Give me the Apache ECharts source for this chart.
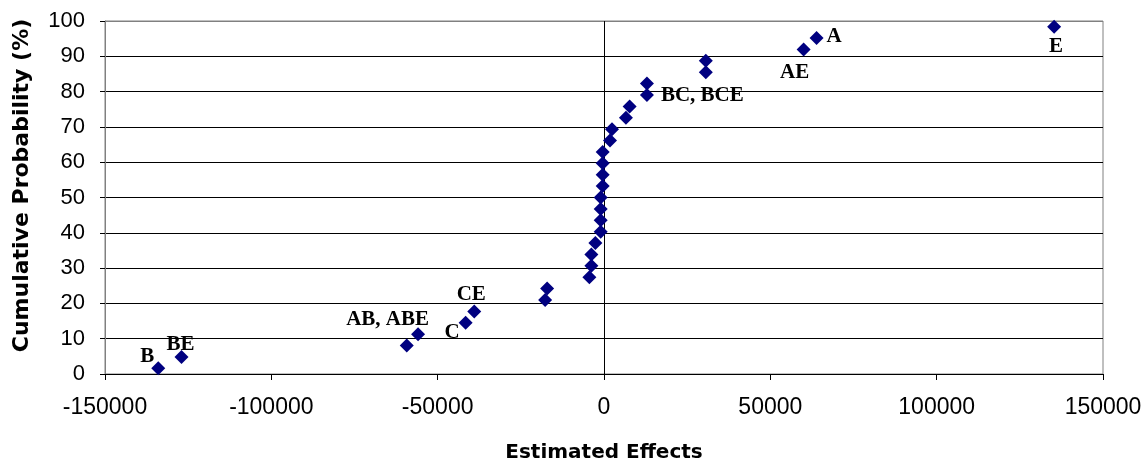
<!DOCTYPE html>
<html>
<head>
<meta charset="utf-8">
<script src="https://cdn.jsdelivr.net/npm/echarts@6/dist/echarts.min.js"></script>
<style>html,body{margin:0;padding:0;background:#fff}#c{width:1146px;height:461px}</style>
</head>
<body>
<div id="c"></div>
<script>
// Estimated effects (x) and cumulative probabilities (y, %)
const effects = [-134000, -127000, -59300, -55900, -41600, -39000, -17700, -17100, -4400, -3800,
  -3800, -2600, -1000, -1000, -1000, -1000, -400, -400, -400, -400, 1800, 2400, 6600, 7700,
  12900, 12900, 30600, 30600, 60000, 63900, 135300];
const cumProb = [1.61, 4.84, 8.06, 11.29, 14.52, 17.74, 20.97, 24.19, 27.42, 30.65, 33.87, 37.10,
  40.32, 43.55, 46.77, 50.00, 53.23, 56.45, 59.68, 62.90, 66.13, 69.35, 72.58, 75.81, 79.03,
  82.26, 85.48, 88.71, 91.94, 95.16, 98.39];
const pointLabels = ['B', 'BE', '', 'AB, ABE', 'C', 'CE', '', '', '', '', '', '', '', '', '', '',
  '', '', '', '', '', '', '', '', 'BC, BCE', '', '', '', 'AE', 'A', 'E'];
const xTicks = [-150000, -100000, -50000, 0, 50000, 100000, 150000];
const yTicks = [0, 10, 20, 30, 40, 50, 60, 70, 80, 90, 100];
const xTitle = 'Estimated Effects';
const yTitle = 'Cumulative Probability (%)';

// label placement (style only)
const labelPlacement = {
  'B': {position: 'left', offset: [7, -12]},
  'BE': {position: 'top', offset: [-1, 9]},
  'AB, ABE': {position: 'left', offset: [22, -15]},
  'C': {position: 'left', offset: [5, 10]},
  'CE': {position: 'top', offset: [-3, 5]},
  'BC, BCE': {position: 'right', offset: [3, 1]},
  'AE': {position: 'bottom', offset: [-9, 2]},
  'A': {position: 'right', offset: [-1, -2]},
  'E': {position: 'bottom', offset: [2, -2]}
};

const data = effects.map((x, i) => {
  const item = {value: [x, cumProb[i]]};
  const t = pointLabels[i];
  if (t) {
    const p = labelPlacement[t];
    item.label = {show: true, formatter: t, position: p.position, offset: p.offset};
  }
  return item;
});

const chart = echarts.init(document.getElementById('c'), null, {renderer: 'canvas'});
const gridColors = yTicks.map((v, i) => (i === 0 || i === yTicks.length - 1) ? '#808080' : '#000000');
chart.setOption({
  animation: false,
  backgroundColor: '#ffffff',
  grid: {left: 105, right: 43, top: 21, bottom: 87, show: true, borderColor: '#808080', borderWidth: 1,
    backgroundColor: '#ffffff', containLabel: false, outerBoundsMode: 'none'},
  xAxis: {
    type: 'value', min: xTicks[0], max: xTicks[xTicks.length - 1], interval: 50000,
    name: xTitle, nameLocation: 'middle', nameGap: 69,
    nameTextStyle: {fontFamily: 'DejaVu Sans', fontWeight: 'bold', fontSize: 20, color: '#000'},
    axisLine: {onZero: false, lineStyle: {color: '#000', width: 1}},
    axisTick: {show: true, inside: false, length: 6, lineStyle: {color: '#000'}},
    axisLabel: {fontFamily: 'Liberation Sans', fontSize: 23, color: '#000', margin: 22, formatter: v => String(v)},
    splitLine: {show: false}
  },
  yAxis: {
    type: 'value', min: 0, max: 100, interval: 10,
    name: yTitle, nameLocation: 'middle', nameGap: 72, nameRotate: 90,
    nameTextStyle: {fontFamily: 'DejaVu Sans', fontWeight: 'bold', fontSize: 22, color: '#000', padding: [0, 0, 0, 24]},
    axisLine: {show: true, onZero: false, lineStyle: {color: '#808080'}},
    axisTick: {show: true, inside: false, length: 5, lineStyle: {color: '#000'}},
    axisLabel: {fontFamily: 'Liberation Sans', fontSize: 22, color: '#000', margin: 20},
    splitLine: {show: true, lineStyle: {color: gridColors, width: 1}}
  },
  series: [{
    type: 'scatter',
    symbol: 'diamond',
    symbolSize: 14,
    itemStyle: {color: '#000080', opacity: 1},
    label: {fontFamily: 'Liberation Serif', fontWeight: 'bold', fontSize: 21, color: '#000', distance: 4},
    data: data,
    markLine: {
      silent: true, symbol: 'none', label: {show: false},
      lineStyle: {color: '#000', width: 1, type: 'solid'},
      data: [{xAxis: 0}]
    },
    z: 5
  }]
});
</script>
</body>
</html>
